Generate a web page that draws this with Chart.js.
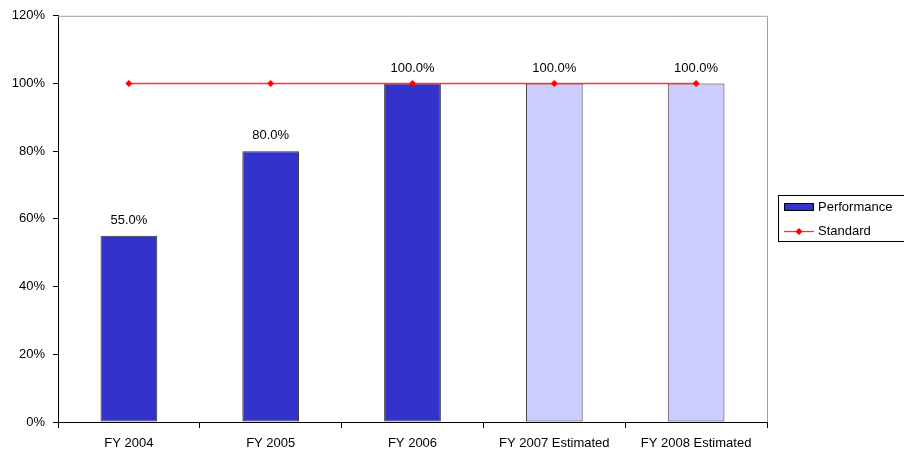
<!DOCTYPE html>
<html>
<head>
<meta charset="utf-8">
<script src="https://cdn.jsdelivr.net/npm/chart.js@4"></script>
<style>
  html, body { margin: 0; padding: 0; background: #fff; }
  #wrap { width: 904px; height: 451px; position: relative; }
</style>
</head>
<body>
<div id="wrap"><canvas id="chart"></canvas></div>
<script>
const categories = ['FY 2004', 'FY 2005', 'FY 2006', 'FY 2007 Estimated', 'FY 2008 Estimated'];
const performance = [55, 80, 100, 100, 100];
const standard = [100, 100, 100, 100, 100];
const barColors = ['#3333CC', '#3333CC', '#3333CC', '#CCCCFF', '#CCCCFF'];
const yTicks = [0, 20, 40, 60, 80, 100, 120];

const FONT = '"Liberation Sans", Arial, sans-serif';

// gray frame on top/right of the plot area
const frame = {
  id: 'frame',
  beforeDatasetsDraw(chart) {
    const { ctx, chartArea: a } = chart;
    ctx.save();
    ctx.strokeStyle = '#A0A0A0';
    ctx.lineWidth = 1;
    ctx.beginPath();
    ctx.moveTo(a.left, a.top + 0.5);
    ctx.lineTo(a.right + 0.5, a.top + 0.5);
    ctx.lineTo(a.right + 0.5, a.bottom);
    ctx.stroke();
    ctx.restore();
  }
};

// value labels above bars + legend box
const extras = {
  id: 'extras',
  afterDatasetsDraw(chart) {
    const { ctx } = chart;
    const meta = chart.getDatasetMeta(0);
    ctx.save();
    ctx.font = '13px ' + FONT;
    ctx.fillStyle = '#000';
    ctx.textAlign = 'center';
    ctx.textBaseline = 'bottom';
    meta.data.forEach((bar, i) => {
      ctx.fillText(performance[i].toFixed(1) + '%', bar.x, bar.y - 9);
    });

    // legend
    const lx = 778.5, ly = 195.5;
    ctx.strokeStyle = '#000';
    ctx.lineWidth = 1;
    ctx.strokeRect(lx, ly, 140, 46);
    ctx.fillStyle = '#3333CC';
    ctx.fillRect(784, 203, 30, 7);
    ctx.strokeRect(784.5, 203.5, 29, 7);
    ctx.strokeStyle = '#FF3333';
    ctx.lineWidth = 1.3;
    ctx.beginPath();
    ctx.moveTo(784, 231.5);
    ctx.lineTo(814, 231.5);
    ctx.stroke();
    ctx.fillStyle = '#FF0000';
    ctx.beginPath();
    ctx.moveTo(799, 228);
    ctx.lineTo(802.5, 231.5);
    ctx.lineTo(799, 235);
    ctx.lineTo(795.5, 231.5);
    ctx.closePath();
    ctx.fill();
    ctx.fillStyle = '#000';
    ctx.textAlign = 'left';
    ctx.textBaseline = 'middle';
    ctx.fillText('Performance', 818, 207);
    ctx.fillText('Standard', 818, 231);
    ctx.restore();
  }
};

new Chart(document.getElementById('chart'), {
  data: {
    labels: categories,
    datasets: [
      {
        type: 'bar',
        label: 'Performance',
        data: performance,
        backgroundColor: barColors,
        borderColor: '#333',
        borderWidth: 1,
        borderSkipped: false,
        categoryPercentage: 1,
        barPercentage: 0.4,
        order: 2
      },
      {
        type: 'line',
        label: 'Standard',
        data: standard,
        borderColor: '#FF3333',
        borderWidth: 1.3,
        backgroundColor: '#FF0000',
        pointBackgroundColor: '#FF0000',
        pointBorderColor: '#FF0000',
        pointStyle: 'rectRot',
        pointRadius: 3.5,
        pointBorderWidth: 0,
        fill: false,
        order: 1
      }
    ]
  },
  options: {
    responsive: true,
    maintainAspectRatio: false,
    animation: false,
    devicePixelRatio: 1,
    layout: { padding: { top: 14, right: 137, left: 0, bottom: 0 } },
    plugins: {
      legend: { display: false },
      tooltip: { enabled: false }
    },
    scales: {
      x: {
        offset: true,
        grid: { offset: true, drawOnChartArea: false, drawTicks: true, tickLength: 6, color: '#000' },
        border: { display: true, color: '#000', width: 1 },
        ticks: { color: '#000', font: { family: FONT, size: 13 }, padding: 8, maxRotation: 0, autoSkip: false },
        afterFit(scale) { scale.height = 29; }
      },
      y: {
        min: 0,
        max: 120,
        afterBuildTicks(scale) { scale.ticks = yTicks.map(v => ({ value: v })); },
        grid: { drawOnChartArea: false, drawTicks: true, tickLength: 5, color: '#000' },
        border: { display: true, color: '#000', width: 1 },
        ticks: { color: '#000', font: { family: FONT, size: 13 }, padding: 8, callback: v => v + '%' },
        afterFit(scale) { scale.width = 58; }
      }
    }
  },
  plugins: [frame, extras]
});
</script>
</body>
</html>
